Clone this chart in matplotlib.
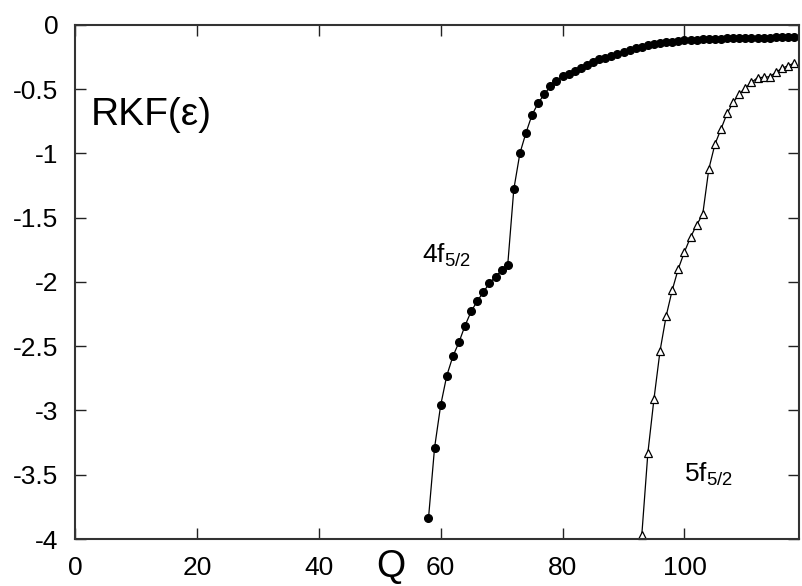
import numpy as np
import matplotlib
matplotlib.use("Agg")
import matplotlib.pyplot as plt
from matplotlib.ticker import FuncFormatter

plt.rcParams['font.family'] = ['Liberation Sans', 'DejaVu Sans']
plt.rcParams['mathtext.fontset'] = 'custom'
plt.rcParams['mathtext.rm'] = 'Liberation Sans'
plt.rcParams['mathtext.it'] = 'Liberation Sans'

# 4f5/2 curve (filled circles)
q_4f = list(range(58, 119))
rkf_4f = [-3.84, -3.29, -2.96, -2.73, -2.58, -2.47, -2.34, -2.23, -2.15, -2.08,
          -2.01, -1.96, -1.91, -1.87, -1.28, -1.00, -0.84, -0.70, -0.61, -0.54,
          -0.48, -0.44, -0.40, -0.38, -0.36, -0.34, -0.31, -0.29, -0.27, -0.257,
          -0.243, -0.228, -0.21, -0.194, -0.181, -0.171, -0.160, -0.152, -0.145, -0.137,
          -0.132, -0.127, -0.121, -0.118, -0.116, -0.114, -0.112, -0.110, -0.108, -0.107,
          -0.106, -0.105, -0.104, -0.103, -0.102, -0.101, -0.100, -0.099, -0.098, -0.097,
          -0.096]

# 5f5/2 curve (open triangles)
q_5f = list(range(93, 119))
rkf_5f = [-3.97, -3.33, -2.91, -2.535, -2.265, -2.063, -1.897, -1.767, -1.653, -1.557,
          -1.474, -1.122, -0.930, -0.811, -0.689, -0.604, -0.539, -0.490, -0.448, -0.412,
          -0.409, -0.404, -0.370, -0.339, -0.319, -0.298]

xticks = [0, 20, 40, 60, 80, 100]
yticks = [0, -0.5, -1, -1.5, -2, -2.5, -3, -3.5, -4]

fig = plt.figure(figsize=(8.02, 5.86), dpi=100)
ax = fig.add_axes([0.0935, 0.0802, 0.9028, 0.8776])

ax.plot(q_4f, rkf_4f, '-', color='black', lw=0.9, marker='o', ms=5.5,
        mfc='black', mec='black', clip_on=False)
ax.plot(q_5f, rkf_5f, '-', color='black', lw=0.9, marker='^', ms=6,
        mfc='white', mec='black', mew=0.9, clip_on=False)

ax.set_xlim(0, 118.8)
ax.set_ylim(-4, 0)
ax.set_xticks(xticks)
ax.set_yticks(yticks)
ax.yaxis.set_major_formatter(FuncFormatter(lambda v, p: ('%g' % v)))
ax.tick_params(direction='in', length=8, width=1, top=True, right=True,
               labelsize=19, pad=12, colors='#222222', labelcolor='black')
for s in ax.spines.values():
    s.set_linewidth(1.5)
    s.set_color('#333333')

ax.text(2.6, -0.70, 'RKF(ε)', fontsize=28, va='center', ha='left')
ax.text(51.8, -4.215, 'Q', fontsize=27, va='center', ha='center', clip_on=False)
ax.text(56.9, -1.853, r'$\mathrm{4f}_{\mathrm{5/2}}$', fontsize=19, va='baseline', ha='left')
ax.text(100.0, -3.553, r'$\mathrm{5f}_{\mathrm{5/2}}$', fontsize=19, va='baseline', ha='left')

fig.savefig('out.png', dpi=100)
